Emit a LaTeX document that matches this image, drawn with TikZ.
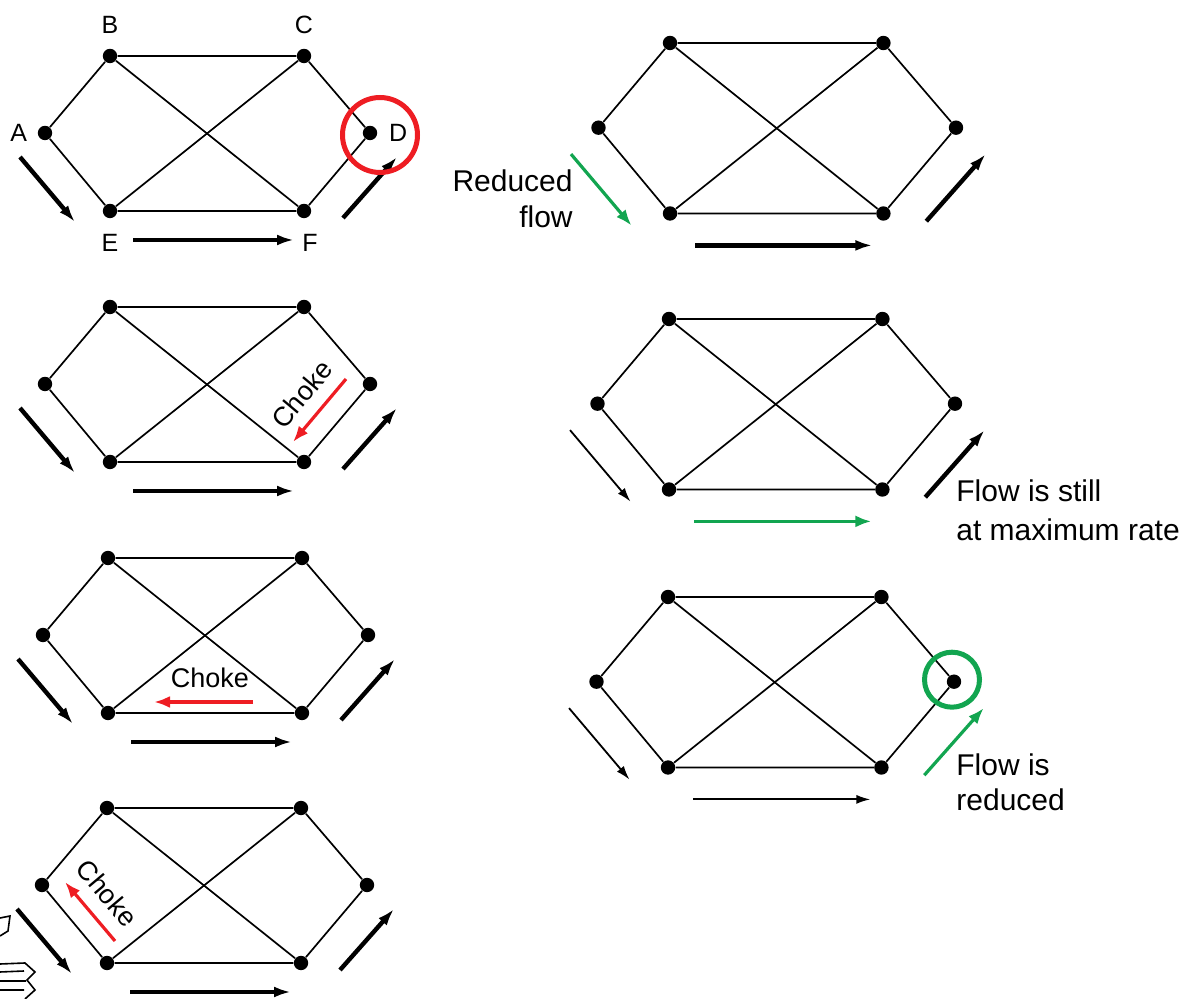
\documentclass[tikz,border=0pt]{standalone}
\usepackage{fontspec}
\setmainfont{Liberation Sans}
\usetikzlibrary{arrows.meta, positioning}
\definecolor{chokeRed}{HTML}{EE1D23}
\definecolor{okGreen}{HTML}{12A550}

\begin{document}
\begin{tikzpicture}[
    x=0.5pt, y=-0.5pt,
    dot/.style={circle, fill, inner sep=0pt, minimum size=7.2pt},
    edge/.style={line width=0.85pt},
    tag/.style={inner sep=0pt, font=\fontsize{12.5}{15}\selectfont},
    note/.style={inner sep=0pt, font=\fontsize{15}{18}\selectfont},
    chokenote/.style={inner sep=0pt, font=\fontsize{13.5}{16}\selectfont},
    flow/.style={-{Latex[length=8.5pt,width=5.5pt]}, line width=2.2pt},
    thinflow/.style={-{Latex[length=7pt,width=4.5pt]}, line width=0.9pt},
    gflow/.style={-{Latex[length=8pt,width=6pt]}, line width=1.6pt, color=okGreen},
    choke/.style={-{Latex[length=8pt,width=6pt]}, line width=1.6pt, color=chokeRed},
    ring/.style={circle, draw, line width=2.5pt, inner sep=0pt},
]
    \useasboundingbox (0,0) rectangle (1190,999);

    % one network per stage: position of B, size, flow arrows left / bottom / right
    \foreach \p/\bx/\by/\k/\lsty/\bsty/\rsty in {
        s1/110/56/1/flow/flow/flow,
        s2/110/307/1/flow/flow/flow,
        s3/108/558/1/flow/flow/flow,
        s4/107/808/1/flow/flow/flow,
        s5/670/43/1.1/gflow/flow/flow,
        s6/669/319/1.1/thinflow/gflow/flow,
        s7/668/597/1.1/thinflow/thinflow/gflow} {
      \begin{scope}[shift={(\bx,\by)}, scale=\k]
        \node[dot] (\p A) at (-65,77) {};
        \node[dot] (\p B) at (0,0) {};
        \node[dot] (\p C) at (194,0) {};
        \node[dot] (\p D) at (260,77) {};
        \node[dot] (\p E) at (0,155) {};
        \node[dot] (\p F) at (194,155) {};

        \draw[edge] (\p A) -- (\p B) -- (\p C) -- (\p D) -- (\p F) -- (\p E) -- (\p A);
        \draw[edge] (\p B) -- (\p F);
        \draw[edge] (\p C) -- (\p E);

        \draw[\lsty] (-90,101) -- (-35,166);
        \draw[\bsty] (23,184) -- (184,184);
        \draw[\rsty] (233,162) -- (287,101);
      \end{scope}
    }

    % names of the wells
    \node[tag, left=5pt of s1A] (labA) {A};
    \node[tag, above=7pt of s1B] (labB) {B};
    \node[tag, above=7pt of s1C] (labC) {C};
    \node[tag, right=5.5pt of s1D] (labD) {D};
    \node[tag, below=7.5pt of s1E] (labE) {E};
    \node[tag, below=7.5pt of s1F, xshift=3pt] (labF) {F};

    \node[ring, draw=chokeRed, minimum size=37.5pt] (ringD) at ([xshift=5pt, yshift=-1pt]s1D) {};
    \node[ring, draw=okGreen, minimum size=27.5pt] (ringG) at ([xshift=-1pt, yshift=1pt]s7D) {};

    % chokes
    \draw[choke] (346,379) -- (293,442);
    \node[chokenote, rotate=50] (choke2) at (302,394) {Choke};
    \draw[choke] (253,702) -- (154,702);
    \node[chokenote] (choke3) at (210,678) {Choke};
    \draw[choke] (115,941) -- (65,882);
    \node[chokenote, rotate=-50] (choke4) at (107,893) {Choke};

    % notes
    \node[note, anchor=east, align=right] (reduced) at (573,199) {Reduced\\flow};
    \node[note, anchor=west, align=left, font=\fontsize{15}{19.5}\selectfont] (still) at (956,510) {Flow is still\\at maximum rate};
    \node[note, anchor=west, align=left, font=\fontsize{15}{17.5}\selectfont] (lower) at (956,782) {Flow is\\reduced};

    % cut-off sketch at the edge
    \draw[line width=0.8pt] (0,918) -- (10,916) -- (8,931) -- (0,936);
    \draw[line width=0.8pt] (0,964) -- (25,963) -- (35,972) -- (27,980) -- (35,990) -- (25,999);
    \draw[line width=0.8pt] (0,972) -- (24,971) (0,981) -- (26,981) (0,990) -- (24,990);
\end{tikzpicture}
\end{document}
